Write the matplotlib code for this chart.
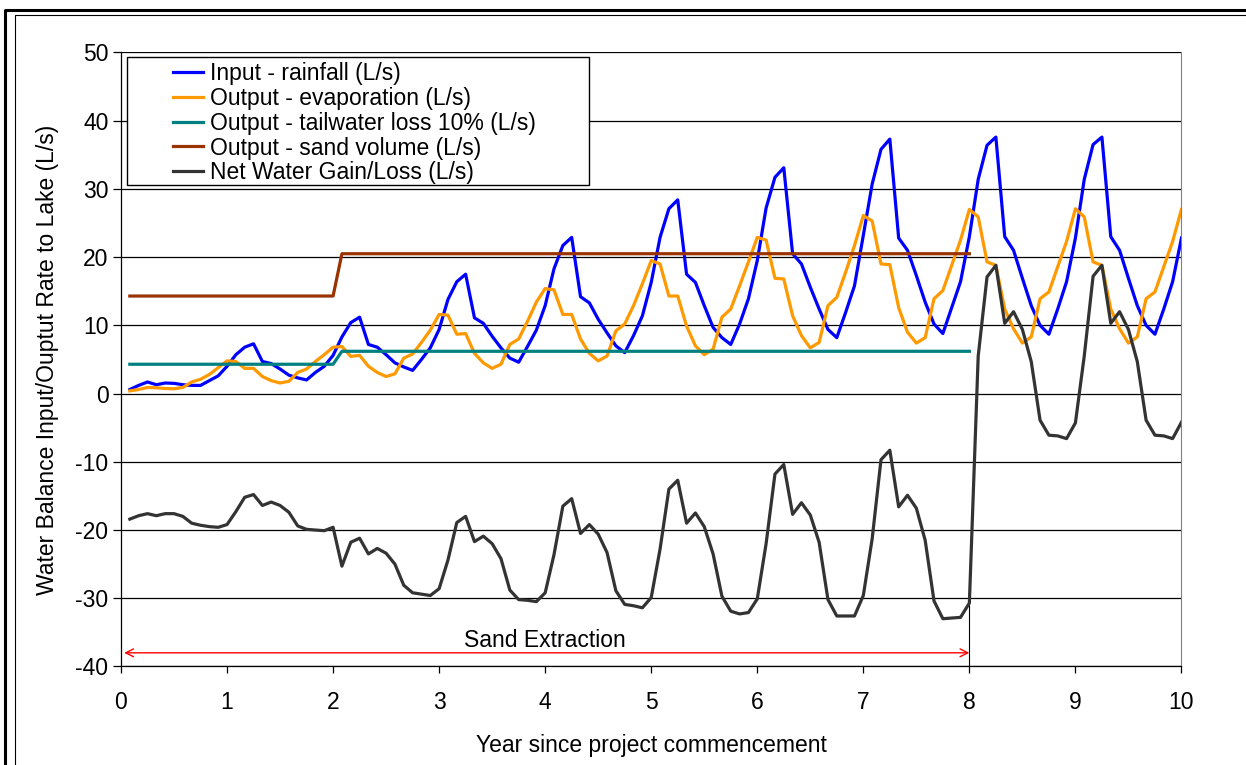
import numpy as np
import matplotlib.pyplot as plt
from matplotlib.lines import Line2D
from matplotlib.patches import Rectangle

plt.rcParams['font.family'] = ['Liberation Sans', 'DejaVu Sans']
plt.rcParams['axes.unicode_minus'] = False

# monthly values, month 1 .. 120
months = np.arange(1, 121)

rainfall = [0.6, 1.2, 1.7, 1.3, 1.55, 1.5, 1.3, 1.2, 1.2, 1.9, 2.6, 4.0,
            5.7, 6.8, 7.3, 4.7, 4.4, 3.6, 2.7, 2.3, 2.0, 3.1, 4.0, 5.6,
            8.3, 10.4, 11.2, 7.2, 6.8, 5.7, 4.5, 3.9, 3.4, 5.0, 6.7, 9.4,
            13.8, 16.4, 17.5, 11.1, 10.3, 8.4, 6.7, 5.2, 4.6, 6.9, 9.3, 12.9,
            18.3, 21.7, 22.9, 14.2, 13.3, 10.9, 8.9, 7.0, 6.0, 8.5, 11.4, 16.3,
            22.9, 27.1, 28.4, 17.5, 16.3, 12.9, 9.7, 8.2, 7.2, 10.2, 13.9, 19.5,
            27.2, 31.7, 33.1, 20.5, 19.0, 15.6, 12.4, 9.4, 8.2, 11.9, 15.8, 23.2,
            30.7, 35.8, 37.3, 22.8, 21.0, 17.3, 13.4, 10.2, 8.8, 12.6, 16.4, 23.0,
            31.4, 36.4, 37.6, 23.0, 21.0, 16.9, 12.9, 10.0, 8.7, 12.4, 16.4, 22.8,
            31.4, 36.5, 37.6, 23.0, 21.0, 16.9, 12.9, 10.0, 8.7, 12.4, 16.4, 22.8]

evaporation = [0.4, 0.6, 0.9, 0.85, 0.75, 0.7, 0.9, 1.7, 2.1, 2.8, 3.8, 4.8,
               4.7, 3.7, 3.7, 2.5, 1.9, 1.55, 1.8, 3.1, 3.6, 4.7, 5.7, 6.8,
               6.9, 5.45, 5.6, 4.0, 3.1, 2.5, 2.9, 5.2, 5.8, 7.5, 9.3, 11.6,
               11.5, 8.7, 8.8, 5.9, 4.5, 3.7, 4.3, 7.2, 8.0, 10.6, 13.4, 15.4,
               15.2, 11.6, 11.6, 8.0, 5.9, 4.8, 5.5, 9.2, 10.2, 12.9, 16.1, 19.5,
               19.0, 14.3, 14.3, 9.9, 7.0, 5.7, 6.5, 11.2, 12.4, 15.8, 19.3, 22.9,
               22.5, 16.9, 16.8, 11.4, 8.5, 6.7, 7.5, 12.9, 14.1, 17.8, 21.7, 26.1,
               25.3, 19.0, 18.9, 12.6, 9.0, 7.4, 8.2, 13.9, 15.1, 18.8, 22.5, 27.0,
               25.9, 19.3, 18.8, 12.4, 9.5, 7.4, 8.3, 13.9, 14.9, 18.6, 22.3, 27.1,
               25.9, 19.3, 18.8, 12.4, 9.5, 7.4, 8.3, 13.9, 14.9, 18.6, 22.3, 27.0]

tailwater = [4.3] * 24 + [6.2] * 72 + [np.nan] * 24
sand_volume = [14.3] * 24 + [20.5] * 72 + [np.nan] * 24

net_gain = [-18.4, -17.9, -17.6, -17.9, -17.6, -17.6, -18.0, -19.0, -19.3, -19.5, -19.6, -19.2,
            -17.3, -15.2, -14.8, -16.4, -15.9, -16.4, -17.4, -19.4, -19.9, -20.0, -20.1, -19.6,
            -25.3, -21.8, -21.2, -23.5, -22.7, -23.4, -25.0, -28.1, -29.2, -29.4, -29.6, -28.6,
            -24.4, -18.9, -18.0, -21.7, -20.9, -22.0, -24.2, -28.8, -30.2, -30.3, -30.5, -29.2,
            -23.6, -16.5, -15.4, -20.5, -19.2, -20.6, -23.3, -28.9, -30.9, -31.1, -31.4, -29.9,
            -22.8, -14.0, -12.7, -19.0, -17.5, -19.5, -23.5, -29.7, -31.9, -32.3, -32.1, -30.1,
            -22.0, -11.8, -10.4, -17.7, -16.0, -17.8, -21.8, -30.2, -32.6, -32.6, -32.6, -29.6,
            -21.3, -9.7, -8.3, -16.6, -14.9, -16.8, -21.5, -30.4, -33.0, -32.9, -32.8, -30.7,
            5.5, 17.1, 18.8, 10.3, 12.0, 9.4, 4.7, -3.9, -6.1, -6.2, -6.6, -4.3,
            5.5, 17.2, 18.8, 10.3, 12.0, 9.4, 4.7, -3.9, -6.1, -6.2, -6.6, -4.2]

labels = ["Input - rainfall (L/s)", "Output - evaporation (L/s)",
          "Output - tailwater loss 10% (L/s)", "Output - sand volume (L/s)",
          "Net Water Gain/Loss (L/s)"]
colors = ["#0000FF", "#FF9900", "#008080", "#993300", "#333333"]

extraction_end = 8
years = months / 12

fig = plt.figure(figsize=(12.46, 7.65), dpi=100)
ax = fig.add_axes([0.0971, 0.1288, 0.8511, 0.8026])

series = [rainfall, evaporation, tailwater, sand_volume, net_gain]
handles = []
for vals, c, lab in zip(series, colors, labels):
    ln, = ax.plot(years, vals, color=c, lw=2.3, label=lab, zorder=3)
    handles.append(ln)

# marker at end of extraction
ax.vlines(extraction_end, -40, net_gain[extraction_end * 12 - 1], color="black", lw=0.8, zorder=2)
ax.annotate("", xy=(0.03, -38), xytext=(extraction_end, -38),
            arrowprops=dict(arrowstyle="<->", color="red", lw=1.0,
                            shrinkA=0, shrinkB=0, mutation_scale=14))
ax.text(4, -36.2, "Sand Extraction", ha="center", va="center", fontsize=16.5)

ax.set_xlim(0, 10)
ax.set_ylim(-40, 50)
ax.set_xticks(range(0, 11))
ax.set_yticks(range(-40, 51, 10))
ax.yaxis.grid(True, color="black", lw=0.9)
ax.set_axisbelow(True)
ax.tick_params(axis="both", direction="out", labelsize=16.5, width=0.9, color="black")
ax.tick_params(axis="x", length=5, pad=13)
ax.tick_params(axis="y", length=6, pad=3)
ax.spines["top"].set_visible(False)
ax.spines["right"].set_color("#808080")
ax.spines["left"].set_linewidth(0.9)
ax.spines["bottom"].set_linewidth(0.9)

ax.set_xlabel("Year since project commencement", fontsize=16.5, labelpad=14)
ax.set_ylabel("Water Balance Input/Ouptut Rate to Lake (L/s)", fontsize=16.5, labelpad=12)

# legend box
box = Rectangle((127 / 1246, 1 - 185 / 765), 462 / 1246, 128 / 765, transform=fig.transFigure,
                facecolor="white", edgecolor="black", lw=1.0, zorder=5)
fig.patches.append(box)
leg = fig.legend(handles, labels, loc="upper left", bbox_to_anchor=(173 / 1246, 1 - 62 / 765),
                 frameon=False, fontsize=16.5, handlelength=1.3, handletextpad=0.3,
                 labelspacing=0.08, borderpad=0, borderaxespad=0)
leg.set_zorder(6)

# outer frame lines
fig.add_artist(Line2D([4.5 / 1246, 4.5 / 1246, 1], [0, 1 - 10 / 765, 1 - 10 / 765],
                      transform=fig.transFigure, color="black", lw=2.2))
fig.add_artist(Line2D([14.7 / 1246, 14.7 / 1246, 1], [0, 1 - 14.5 / 765, 1 - 14.5 / 765],
                      transform=fig.transFigure, color="black", lw=0.8))

plt.savefig("out.png", dpi=100)
